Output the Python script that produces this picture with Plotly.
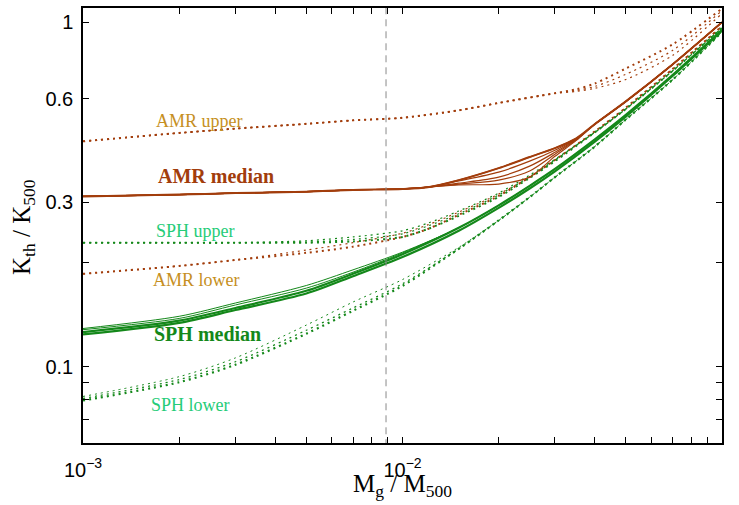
import numpy as np
import plotly.graph_objects as go

# ---------------- data ----------------
# AMR upper bundle
amr_up_x = [0.001, 0.002, 0.003, 0.005, 0.007, 0.01, 0.015, 0.02, 0.03, 0.035, 0.04, 0.05, 0.07, 0.1]
amr_up_1 = [0.451, 0.477, 0.491, 0.507, 0.519, 0.528, 0.555, 0.583, 0.622, 0.639, 0.664, 0.734, 0.862, 1.096]
amr_up_2 = [0.451, 0.477, 0.491, 0.507, 0.519, 0.528, 0.555, 0.583, 0.622, 0.634, 0.651, 0.706, 0.828, 1.081]
amr_up_3 = [0.451, 0.477, 0.491, 0.507, 0.519, 0.528, 0.555, 0.583, 0.622, 0.630, 0.643, 0.682, 0.801, 1.060]

# AMR median bundle
amr_med_x = [0.001, 0.002, 0.003, 0.005, 0.007, 0.01, 0.012, 0.015, 0.02, 0.025, 0.03, 0.035, 0.04, 0.05, 0.07, 0.1]
amr_med_1 = [0.312, 0.316, 0.319, 0.322, 0.326, 0.328, 0.332, 0.348, 0.377, 0.406, 0.431, 0.460, 0.506, 0.589, 0.754, 1.0]
amr_med_2 = [0.312, 0.316, 0.319, 0.322, 0.326, 0.328, 0.332, 0.346, 0.367, 0.395, 0.425, 0.459, 0.506, 0.589, 0.754, 1.0]
amr_med_3 = [0.312, 0.316, 0.319, 0.322, 0.326, 0.328, 0.332, 0.341, 0.355, 0.382, 0.419, 0.457, 0.506, 0.589, 0.754, 1.0]
amr_med_4 = [0.312, 0.316, 0.319, 0.322, 0.326, 0.328, 0.332, 0.339, 0.348, 0.370, 0.414, 0.456, 0.506, 0.589, 0.754, 1.0]
amr_med_5 = [0.312, 0.316, 0.319, 0.322, 0.326, 0.328, 0.332, 0.337, 0.339, 0.355, 0.408, 0.454, 0.506, 0.589, 0.754, 1.0]

# AMR lower bundle
amr_lo_x = [0.001, 0.002, 0.003, 0.005, 0.007, 0.01, 0.012, 0.015, 0.02, 0.025, 0.03, 0.04, 0.05, 0.07, 0.1]
amr_lo_1 = [0.186, 0.196, 0.204, 0.214, 0.223, 0.238, 0.251, 0.276, 0.313, 0.355, 0.398, 0.482, 0.565, 0.731, 0.974]
amr_lo_2 = [0.186, 0.196, 0.204, 0.218, 0.229, 0.244, 0.258, 0.281, 0.317, 0.355, 0.398, 0.482, 0.565, 0.731, 0.974]

# SPH upper bundle
sph_up_x = [0.001, 0.002, 0.003, 0.005, 0.007, 0.01, 0.012, 0.015, 0.02, 0.025, 0.03, 0.04, 0.05, 0.07, 0.1]
sph_up_1 = [0.229, 0.229, 0.229, 0.229, 0.231, 0.238, 0.251, 0.274, 0.311, 0.353, 0.395, 0.479, 0.560, 0.722, 0.963]
sph_up_2 = [0.229, 0.229, 0.229, 0.230, 0.234, 0.243, 0.256, 0.278, 0.315, 0.356, 0.398, 0.479, 0.560, 0.722, 0.963]
sph_up_3 = [0.229, 0.229, 0.229, 0.232, 0.238, 0.248, 0.261, 0.283, 0.319, 0.360, 0.400, 0.479, 0.560, 0.722, 0.963]

# SPH median bundle
sph_med_x = [0.001, 0.002, 0.003, 0.005, 0.007, 0.01, 0.015, 0.02, 0.025, 0.03, 0.04, 0.05, 0.07, 0.1]
sph_med_1 = [0.126, 0.136, 0.148, 0.166, 0.186, 0.212, 0.253, 0.294, 0.335, 0.375, 0.457, 0.538, 0.702, 0.950]
sph_med_2 = [0.129, 0.140, 0.153, 0.172, 0.191, 0.215, 0.253, 0.294, 0.335, 0.375, 0.457, 0.538, 0.702, 0.950]
sph_med_3 = [0.128, 0.138, 0.151, 0.169, 0.188, 0.214, 0.253, 0.294, 0.335, 0.375, 0.457, 0.538, 0.702, 0.950]
sph_med_4 = [0.124, 0.134, 0.146, 0.163, 0.183, 0.208, 0.248, 0.289, 0.329, 0.369, 0.450, 0.532, 0.698, 0.947]

# SPH lower bundle
sph_lo_x = [0.001, 0.002, 0.003, 0.005, 0.007, 0.01, 0.015, 0.02, 0.025, 0.03, 0.04, 0.05, 0.07, 0.1]
sph_lo_1 = [0.0797, 0.0901, 0.1013, 0.1246, 0.1453, 0.1716, 0.2199, 0.2658, 0.3105, 0.3548, 0.4357, 0.5216, 0.6806, 0.9374]
sph_lo_2 = [0.0808, 0.0917, 0.1033, 0.1275, 0.1480, 0.1740, 0.2199, 0.2658, 0.3105, 0.3548, 0.4357, 0.5216, 0.6806, 0.9374]
sph_lo_3 = [0.0819, 0.0935, 0.1060, 0.1320, 0.1540, 0.1790, 0.2220, 0.2658, 0.3105, 0.3548, 0.4357, 0.5216, 0.6806, 0.9374]

mass_cut = 0.00888

x_tick_vals = [0.001, 0.002, 0.003, 0.004, 0.005, 0.006, 0.007, 0.008, 0.009,
               0.01, 0.02, 0.03, 0.04, 0.05, 0.06, 0.07, 0.08, 0.09, 0.1]
x_tick_text = ["10<sup>−3</sup>", "", "", "", "", "", "", "", "",
               "10<sup>−2</sup>", "", "", "", "", "", "", "", "", "10<sup>−1</sup>"]
y_tick_vals = [0.07, 0.08, 0.09, 0.1, 0.2, 0.3, 0.6, 1.0]
y_tick_text = ["", "", "", "0.1", "", "0.3", "0.6", "1"]

# ---------------- styling ----------------
BROWN = "#A23D0C"
GREEN = "#14881A"
DOT = "2px,4px"

fig = go.Figure()

def add(x, y, color, width, dash=None, opacity=1.0):
    line = dict(color=color, width=width, shape="spline", smoothing=0.8)
    if dash:
        line["dash"] = dash
    fig.add_trace(go.Scatter(x=x, y=y, mode="lines", line=line, opacity=opacity,
                             showlegend=False, hoverinfo="skip"))

# dotted bundles
for y, w in [(amr_up_3, 1.2), (amr_up_2, 1.2), (amr_up_1, 2)]:
    add(amr_up_x, y, BROWN, w, DOT)
for y, w in [(amr_lo_2, 1.2), (amr_lo_1, 2)]:
    add(amr_lo_x, y, BROWN, w, DOT)
for y, w in [(sph_up_3, 1.2), (sph_up_2, 1.2), (sph_up_1, 2)]:
    add(sph_up_x, y, GREEN, w, DOT)
for y, w in [(sph_lo_3, 1.0), (sph_lo_2, 1.3), (sph_lo_1, 2.2)]:
    add(sph_lo_x, y, GREEN, w, DOT)

# solid bundles
for y in [amr_med_1, amr_med_2, amr_med_3, amr_med_4, amr_med_5]:
    add(amr_med_x, y, BROWN, 1.2)
add(amr_med_x, amr_med_1, BROWN, 2)
for y, w in [(sph_med_2, 1.0), (sph_med_3, 1.0), (sph_med_4, 2.2), (sph_med_1, 2.2)]:
    add(sph_med_x, y, GREEN, w)

# vertical dashed line
fig.add_trace(go.Scatter(x=[mass_cut, mass_cut], y=[0.05, 1.2], mode="lines",
                         line=dict(color="#8a8a8a", width=1, dash="7px,5px"),
                         showlegend=False, hoverinfo="skip"))

SERIF = "Liberation Serif, Times New Roman, serif"
SANS = "Liberation Sans, Arial, sans-serif"

labels = [
    ("AMR upper", 199, 120, "#C68F22", 18, False),
    ("AMR median", 216, 175, BROWN, 20, True),
    ("SPH upper", 195, 230, "#25CC78", 18, False),
    ("AMR lower", 196, 279, "#C68F22", 18, False),
    ("SPH median", 207, 334, GREEN, 20, True),
    ("SPH lower", 190, 405, "#25CC78", 18, False),
]
L, R, T, B = 83, 17, 6, 62
W, H = 739, 505
pw, ph = W - L - R, H - T - B
for txt, px, py, col, sz, bold in labels:
    fig.add_annotation(text=f"<b>{txt}</b>" if bold else txt,
                       x=(px - L) / pw, y=(H - B - py) / ph, xref="paper", yref="paper",
                       showarrow=False, xanchor="center", yanchor="middle",
                       font=dict(family=SERIF, size=sz, color=col))

fig.add_annotation(text="K<sub>th</sub> / K<sub>500</sub>", textangle=-90,
                   x=(24 - L) / pw, y=(H - B - 226) / ph, xref="paper", yref="paper",
                   showarrow=False, xanchor="center", yanchor="middle",
                   font=dict(family=SERIF, size=25, color="black"))
fig.add_annotation(text="M<sub>g</sub> / M<sub>500</sub>",
                   x=0.5, y=(H - B - 486) / ph, xref="paper", yref="paper",
                   showarrow=False, xanchor="center", yanchor="middle",
                   font=dict(family=SERIF, size=25, color="black"))

axis_common = dict(showgrid=False, zeroline=False, showline=True, linecolor="black",
                   linewidth=1.5, mirror="ticks", ticks="inside", ticklen=6,
                   tickcolor="black", tickwidth=1,
                   tickfont=dict(family=SANS, size=20, color="black"))

fig.update_xaxes(type="log", range=[-3, -1], tickmode="array",
                 tickvals=x_tick_vals, ticktext=x_tick_text, ticklabelstandoff=8,
                 **axis_common)
fig.update_yaxes(type="log", range=[np.log10(0.06), np.log10(1.1)], tickmode="array",
                 tickvals=y_tick_vals, ticktext=y_tick_text, ticklabelstandoff=4,
                 **axis_common)

fig.update_layout(width=W, height=H, autosize=False,
                  margin=dict(l=L, r=R, t=T, b=B, pad=0),
                  paper_bgcolor="white", plot_bgcolor="white",
                  showlegend=False)

fig.write_html("out.html")
